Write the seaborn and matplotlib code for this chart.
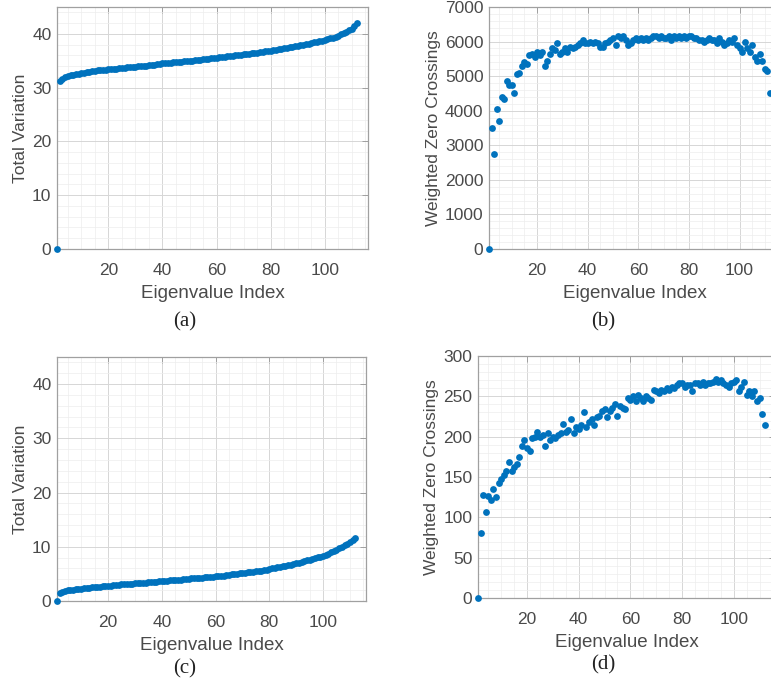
import numpy as np
import pandas as pd
import matplotlib
matplotlib.use('Agg')
import matplotlib.pyplot as plt
from matplotlib.ticker import MultipleLocator
import seaborn as sns

# Data (eigenvalue index 1..112)
tv_a = [0.0,
        31.3, 31.6, 31.9, 32.1, 32.3, 32.4, 32.5, 32.6, 32.7,
        32.8, 32.9, 33.0, 33.05, 33.1, 33.2, 33.25, 33.3, 33.35, 33.4,
        33.45, 33.5, 33.55, 33.6, 33.65, 33.7, 33.75, 33.8, 33.85, 33.9,
        33.95, 34.0, 34.05, 34.1, 34.15, 34.2, 34.3, 34.35, 34.4, 34.5,
        34.55, 34.6, 34.65, 34.7, 34.75, 34.8, 34.85, 34.9, 34.95, 35.0,
        35.05, 35.1, 35.15, 35.2, 35.25, 35.3, 35.4, 35.45, 35.5, 35.6,
        35.65, 35.7, 35.75, 35.8, 35.9, 35.95, 36.0, 36.05, 36.1, 36.2,
        36.25, 36.3, 36.4, 36.45, 36.5, 36.6, 36.65, 36.75, 36.8, 36.9,
        37.0, 37.05, 37.15, 37.25, 37.3, 37.4, 37.5, 37.6, 37.7, 37.8,
        37.9, 38.0, 38.1, 38.2, 38.3, 38.4, 38.5, 38.6, 38.7, 38.85,
        39.0, 39.15, 39.3, 39.5, 39.7, 39.9, 40.15, 40.4, 40.7, 41.0,
        41.5, 42.1]

wzc_b = [0,
         3500, 2750, 4050, 3700, 4400, 4350, 4850, 4750, 4750,
         4500, 5050, 5100, 5300, 5400, 5350, 5600, 5650, 5550, 5700,
         5600, 5700, 5300, 5450, 5650, 5800, 5750, 5950, 5650, 5700,
         5800, 5700, 5850, 5800, 5850, 5900, 5950, 6050, 5950, 5950,
         6000, 5950, 6000, 5950, 5850, 5850, 5950, 6000, 6050, 6100,
         5900, 6150, 6100, 6150, 6050, 5900, 5950, 6050, 6100, 6050,
         6100, 6050, 6100, 6050, 6100, 6150, 6150, 6100, 6150, 6100,
         6100, 6150, 6050, 6150, 6100, 6150, 6100, 6150, 6100, 6150,
         6150, 6100, 6100, 6050, 6050, 6000, 6050, 6100, 6050, 6050,
         5950, 6100, 6000, 5900, 5950, 6050, 6000, 6100, 5900, 5800,
         5700, 6000, 5800, 5700, 5900, 5550, 5450, 5650, 5450, 5200,
         5150, 4500]

tv_c = [0.0,
        1.5, 1.7, 1.85, 1.95, 2.05, 2.1, 2.2, 2.25, 2.3,
        2.35, 2.4, 2.45, 2.5, 2.55, 2.6, 2.65, 2.7, 2.75, 2.8,
        2.85, 2.9, 2.95, 3.0, 3.05, 3.1, 3.1, 3.15, 3.2, 3.25,
        3.3, 3.3, 3.35, 3.4, 3.45, 3.5, 3.5, 3.55, 3.6, 3.65,
        3.7, 3.75, 3.8, 3.8, 3.85, 3.9, 3.95, 4.0, 4.05, 4.1,
        4.15, 4.2, 4.2, 4.25, 4.3, 4.35, 4.4, 4.45, 4.5, 4.55,
        4.6, 4.65, 4.7, 4.8, 4.85, 4.9, 4.95, 5.0, 5.1, 5.15,
        5.2, 5.3, 5.35, 5.4, 5.5, 5.55, 5.6, 5.7, 5.8, 5.9,
        6.0, 6.1, 6.2, 6.3, 6.4, 6.5, 6.6, 6.7, 6.8, 6.95,
        7.1, 7.2, 7.35, 7.5, 7.6, 7.75, 7.9, 8.05, 8.2, 8.35,
        8.55, 8.75, 9.0, 9.2, 9.45, 9.7, 9.95, 10.25, 10.55, 10.85,
        11.2, 11.6]

wzc_d = [0,
         80, 128, 106, 127, 122, 135, 125, 143, 148,
         153, 158, 168, 158, 162, 166, 175, 188, 196, 186,
         182, 198, 200, 206, 200, 202, 188, 204, 196, 200,
         198, 202, 204, 216, 206, 208, 222, 205, 212, 210,
         214, 230, 212, 218, 222, 215, 224, 226, 232, 234,
         224, 232, 236, 240, 226, 238, 236, 234, 248, 246,
         250, 244, 252, 248, 244, 250, 248, 246, 258, 256,
         254, 258, 256, 260, 258, 262, 260, 264, 266, 266,
         262, 264, 264, 256, 266, 266, 264, 268, 264, 266,
         266, 268, 272, 268, 270, 266, 264, 262, 266, 268,
         270, 256, 262, 268, 252, 256, 250, 256, 244, 248,
         228, 214]

idx = np.arange(1, len(tv_a) + 1)

sns.set_theme(style='white')
plt.rcParams['font.family'] = ['Liberation Sans', 'DejaVu Sans']

blue = '#0072BD'
txt = '#4a4a4a'

fig = plt.figure(figsize=(7.71, 6.88), dpi=100)


def panel(rect, y, ylabel, ymax, ymajor, yminor, caption, cap_xy):
    ax = fig.add_axes(rect)
    df = pd.DataFrame({'idx': idx, 'val': y})
    sns.scatterplot(data=df, x='idx', y='val', ax=ax, color=blue, s=24,
                    linewidth=0, clip_on=False, zorder=3)
    ax.set_xlim(1, 116)
    ax.set_ylim(0, ymax)
    ax.xaxis.set_major_locator(MultipleLocator(20))
    ax.xaxis.set_minor_locator(MultipleLocator(5))
    ax.yaxis.set_major_locator(MultipleLocator(ymajor))
    ax.yaxis.set_minor_locator(MultipleLocator(yminor))
    ax.set_xticks([20, 40, 60, 80, 100])
    ax.grid(True, which='major', color='#d6d6d6', lw=0.7)
    ax.grid(True, which='minor', color='#ededed', lw=0.5)
    ax.set_axisbelow(True)
    for s in ax.spines.values():
        s.set_color('#a0a0a0')
        s.set_linewidth(0.9)
    ax.tick_params(which='major', direction='in', length=4, width=0.7,
                   color='#a0a0a0', top=True, right=True, labelsize=12.5,
                   labelcolor=txt)
    ax.tick_params(axis='x', which='major', pad=10)
    ax.tick_params(axis='y', which='major', pad=4)
    ax.tick_params(which='minor', length=0)
    ax.set_xlabel('Eigenvalue Index', fontsize=13.5, color=txt, labelpad=5)
    ax.set_ylabel(ylabel, fontsize=12.5, color=txt, labelpad=3)
    fig.text(cap_xy[0] / 771, 1 - cap_xy[1] / 688, caption,
             family='Liberation Serif', fontsize=15, color='#222222',
             ha='center', va='center')
    return ax


panel([57 / 771, 1 - 249 / 688, 311 / 771, 242 / 688], tv_a,
      'Total Variation', 45, 10, 2, '(a)', (185, 322))
panel([489 / 771, 1 - 249 / 688, 291 / 771, 242 / 688], wzc_b,
      'Weighted Zero Crossings', 7000, 1000, 200, '(b)', (603, 322))
panel([57 / 771, 1 - 601 / 688, 309 / 771, 244 / 688], tv_c,
      'Total Variation', 45, 10, 2, '(c)', (185, 669))
panel([478 / 771, 1 - 598 / 688, 297 / 771, 242 / 688], wzc_d,
      'Weighted Zero Crossings', 300, 50, 10, '(d)', (603, 665))

fig.savefig('out.png', dpi=100)
